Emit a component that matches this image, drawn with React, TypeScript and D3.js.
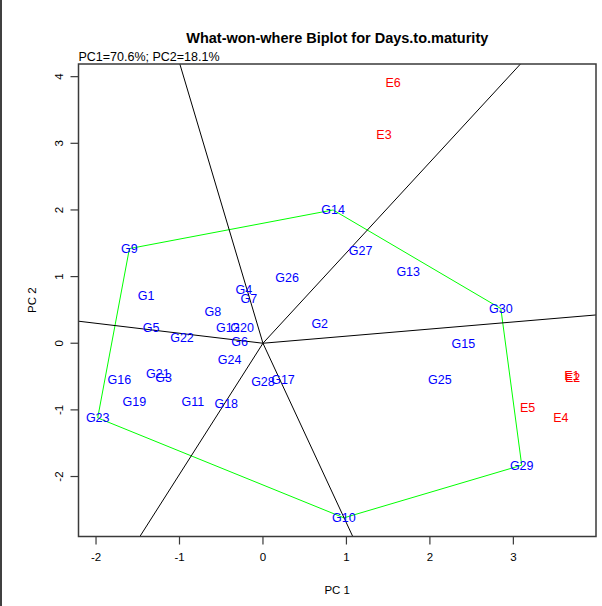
import React from "react";
import * as d3 from "d3";

const genotypes = ["G1","G2","G3","G4","G5","G6","G7","G8","G9","G10","G11","G12","G13","G14","G15","G16","G17","G18","G19","G20","G21","G22","G23","G24","G25","G26","G27","G28","G29","G30"];
const genoPC1 = [-1.40, 0.68, -1.19, -0.23, -1.34, -0.28, -0.17, -0.60, -1.60, 0.97, -0.84, -0.42, 1.74, 0.84, 2.40, -1.72, 0.24, -0.44, -1.54, -0.25, -1.26, -0.97, -1.98, -0.40, 2.12, 0.29, 1.17, 0.00, 3.10, 2.85];
const genoPC2 = [0.71, 0.30, -0.51, 0.80, 0.24, 0.03, 0.67, 0.47, 1.42, -2.62, -0.87, 0.24, 1.07, 2.00, -0.01, -0.54, -0.54, -0.90, -0.88, 0.24, -0.45, 0.08, -1.12, -0.24, -0.55, 0.98, 1.39, -0.57, -1.83, 0.52];

const envs = ["E1","E2","E3","E4","E5","E6"];
const envPC1 = [3.70, 3.71, 1.45, 3.57, 3.17, 1.56];
const envPC2 = [-0.49, -0.52, 3.13, -1.12, -0.97, 3.91];

const xTicks = [-2, -1, 0, 1, 2, 3];
const yTicks = [-2, -1, 0, 1, 2, 3, 4];

const titleText = "What-won-where Biplot for Days.to.maturity";
const subText = "PC1=70.6%; PC2=18.1%";

const W = 602, H = 606;
const L = 78.5, R = 596, T = 64, B = 536.5;

export default function App() {
  const x = d3.scaleLinear().domain([-2.21, 3.99]).range([L, R]);
  const y = d3.scaleLinear().domain([-2.90, 4.19]).range([B, T]);
  const pts: [number, number][] = genoPC1.map((v, i) => [v, genoPC2[i]]);
  const hull = d3.polygonHull(pts) || [];
  const line = d3.line<[number, number]>().x(d => x(d[0])).y(d => y(d[1]));
  const rays = hull.map((a, i) => {
    const b = hull[(i + 1) % hull.length];
    const dx = b[0] - a[0], dy = b[1] - a[1];
    let nx = -dy, ny = dx;
    if (nx * a[0] + ny * a[1] < 0) { nx = -nx; ny = -ny; }
    const len = Math.hypot(nx, ny);
    return [[0, 0], [nx / len * 30, ny / len * 30]] as [number, number][];
  });
  const font = "'Liberation Sans', Arial, Helvetica, sans-serif";
  return (
    <svg width={W} height={H} style={{ position: "absolute", left: 0, top: 0, background: "#fff" }} fontFamily={font}>
      <defs>
        <clipPath id="plotclip"><rect x={L} y={T} width={R - L} height={B - T} /></clipPath>
      </defs>
      <rect x={0} y={0} width={W} height={H} fill="#fff" />
      <line x1={1} y1={0} x2={1} y2={H} stroke="#000" strokeWidth={1.5} />
      <text x={(L + R) / 2} y={43} textAnchor="middle" fontSize={14.5} fontWeight="bold" fill="#000">{titleText}</text>
      <text x={L} y={61} fontSize={12.5} fill="#000">{subText}</text>
      <g clipPath="url(#plotclip)">
        <path d={line(hull as [number, number][]) + "Z"} fill="none" stroke="#00ff00" strokeWidth={1} />
        {rays.map((r, i) => (
          <path key={i} d={line(r) || ""} fill="none" stroke="#000" strokeWidth={1} />
        ))}
      </g>
      <rect x={L} y={T} width={R - L} height={B - T} fill="none" stroke="#3a3a3a" strokeWidth={1.5} />
      {xTicks.map(t => (
        <g key={"x" + t}>
          <line x1={x(t)} x2={x(t)} y1={B} y2={B + 8} stroke="#3a3a3a" strokeWidth={1.2} />
          <text x={x(t)} y={B + 24} textAnchor="middle" fontSize={11.5} fill="#000">{t}</text>
        </g>
      ))}
      {yTicks.map(t => (
        <g key={"y" + t}>
          <line x1={L} x2={L - 8} y1={y(t)} y2={y(t)} stroke="#3a3a3a" strokeWidth={1.2} />
          <text transform={`translate(${L - 16},${y(t)}) rotate(-90)`} textAnchor="middle" fontSize={11.5} fill="#000">{t}</text>
        </g>
      ))}
      <text x={(L + R) / 2} y={594} textAnchor="middle" fontSize={11.5} fill="#000">PC 1</text>
      <text transform={`translate(36,${(T + B) / 2}) rotate(-90)`} textAnchor="middle" fontSize={11.5} fill="#000">PC 2</text>
      {genotypes.map((g, i) => (
        <text key={g} x={x(genoPC1[i])} y={y(genoPC2[i])} dy="0.36em" textAnchor="middle" fontSize={12.5} fill="#0000ff">{g}</text>
      ))}
      {envs.map((e, i) => (
        <text key={e} x={x(envPC1[i])} y={y(envPC2[i])} dy="0.36em" textAnchor="middle" fontSize={12.5} fill="#ff0000">{e}</text>
      ))}
    </svg>
  );
}
